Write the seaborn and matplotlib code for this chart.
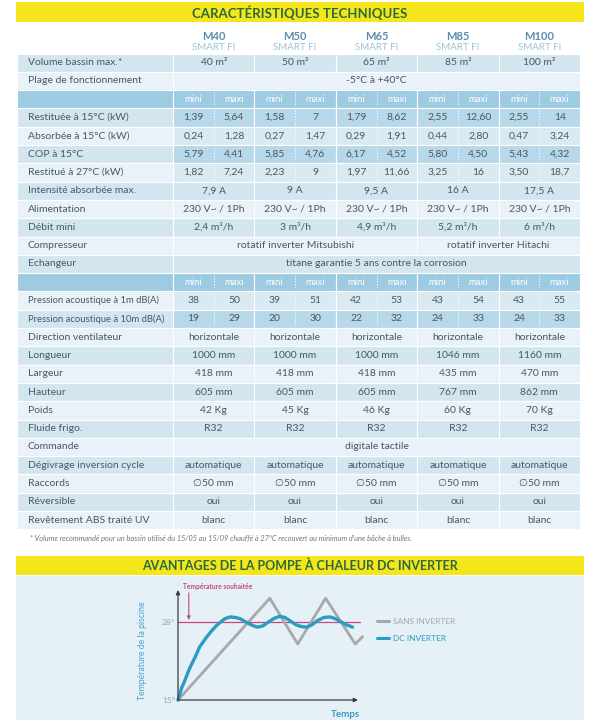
import pandas as pd
import matplotlib
matplotlib.use('Agg')
import matplotlib.pyplot as plt
from matplotlib.patches import Rectangle
import seaborn as sns

sns.set_theme(style='white')
plt.rcParams['font.family'] = ['Lato', 'DejaVu Sans']

# ── table data ──
models = ['M40', 'M50', 'M65', 'M85', 'M100']
volume = ['40 m²', '50 m²', '65 m²', '85 m²', '100 m²']
plage = '-5°C à +40°C'
rest15_mini = ['1,39', '1,58', '1,79', '2,55', '2,55']
rest15_maxi = ['5,64', '7', '8,62', '12,60', '14']
abs15_mini = ['0,24', '0,27', '0,29', '0,44', '0,47']
abs15_maxi = ['1,28', '1,47', '1,91', '2,80', '3,24']
cop_mini = ['5,79', '5,85', '6,17', '5,80', '5,43']
cop_maxi = ['4,41', '4,76', '4,52', '4,50', '4,32']
rest27_mini = ['1,82', '2,23', '1,97', '3,25', '3,50']
rest27_maxi = ['7,24', '9', '11,66', '16', '18,7']
intensite = ['7,9 A', '9 A', '9,5 A', '16 A', '17,5 A']
alimentation = ['230 V~ / 1Ph'] * 5
debit = ['2,4 m³/h', '3 m³/h', '4,9 m³/h', '5,2 m³/h', '6 m³/h']
compresseurs = ['rotatif inverter Mitsubishi', 'rotatif inverter Hitachi']
echangeur = 'titane garantie 5 ans contre la corrosion'
p1m_mini = ['38', '39', '42', '43', '43']
p1m_maxi = ['50', '51', '53', '54', '55']
p10m_mini = ['19', '20', '22', '24', '24']
p10m_maxi = ['29', '30', '32', '33', '33']
direction = ['horizontale'] * 5
longueur = ['1000 mm', '1000 mm', '1000 mm', '1046 mm', '1160 mm']
largeur = ['418 mm', '418 mm', '418 mm', '435 mm', '470 mm']
hauteur = ['605 mm', '605 mm', '605 mm', '767 mm', '862 mm']
poids = ['42 Kg', '45 Kg', '46 Kg', '60 Kg', '70 Kg']
fluide = ['R32'] * 5
commande = 'digitale tactile'
degivrage = ['automatique'] * 5
raccords = ['∅50 mm'] * 5
reversible = ['oui'] * 5
revetement = ['blanc'] * 5
footnote = ("* Volume recommandé pour un bassin utilisé du 15/05 au 15/09 chauffé "
            "à 27°C recouvert au minimum d'une bâche à bulles.")

# ── chart data ──
temps_sans = [0, 10.2, 13.3, 16.4, 19.7, 20.5]
temp_sans = [15, 31.9, 24.3, 31.9, 24.3, 25.5]
temps_dc = [0, 0.2, 0.4, 0.7, 0.9, 1.3, 1.9, 2.4, 3.1, 3.8, 4.3, 4.7, 5.2,
            5.8, 6.4, 6.9, 7.5, 8.1, 8.8, 9.4, 10.0, 10.6, 11.3, 11.9, 12.5,
            13.1, 13.7, 14.3, 14.9, 15.5, 16.2, 16.9, 17.5, 18.1, 18.7, 19.4]
temp_dc = [15, 16.0, 17.0, 18.0, 18.8, 20.3, 22.1, 23.8, 25.3, 26.6, 27.4,
           27.9, 28.5, 28.8, 28.7, 28.5, 28.0, 27.5, 27.1, 27.3, 27.9, 28.5,
           28.9, 28.7, 28.1, 27.5, 27.2, 27.1, 27.5, 28.2, 28.7, 28.8, 28.5,
           28.0, 27.5, 27.1]
target_temp = 28

# ── colours ──
yellow = '#f5e61c'
green = '#2b6a3c'
txt = '#4b5862'
dark, light, head = '#d3e6f0', '#e8f2f8', '#9dcbe1'
dark_val, light_val = '#b6d8ea', '#d9eaf3'
grey_line, blue_line, pink = '#a8a8a8', '#2b9cc4', '#c8477c'

rows = [
    ('Volume bassin max.*', 'each', volume),
    ('Plage de fonctionnement', 'span', [(0, 5, plage)]),
    ('', 'head', None),
    ('Restituée à 15°C (kW)', 'mm', (rest15_mini, rest15_maxi)),
    ('Absorbée à 15°C (kW)', 'mm', (abs15_mini, abs15_maxi)),
    ('COP à 15°C', 'mm', (cop_mini, cop_maxi)),
    ('Restitué à 27°C (kW)', 'mm', (rest27_mini, rest27_maxi)),
    ('Intensité absorbée max.', 'each', intensite),
    ('Alimentation', 'each', alimentation),
    ('Débit mini', 'each', debit),
    ('Compresseur', 'span', [(0, 3, compresseurs[0]), (3, 5, compresseurs[1])]),
    ('Echangeur', 'span', [(0, 5, echangeur)]),
    ('', 'head', None),
    ('Pression acoustique à 1m dB(A)', 'mm', (p1m_mini, p1m_maxi)),
    ('Pression acoustique à 10m dB(A)', 'mm', (p10m_mini, p10m_maxi)),
    ('Direction ventilateur', 'each', direction),
    ('Longueur', 'each', longueur),
    ('Largeur', 'each', largeur),
    ('Hauteur', 'each', hauteur),
    ('Poids', 'each', poids),
    ('Fluide frigo.', 'each', fluide),
    ('Commande', 'span', [(0, 5, commande)]),
    ('Dégivrage inversion cycle', 'each', degivrage),
    ('Raccords', 'each', raccords),
    ('Réversible', 'each', reversible),
    ('Revêtement ABS traité UV', 'each', revetement),
]
shade = 'dlhdldldldldhldldldldldldl'

fig = plt.figure(figsize=(6, 7.2), dpi=100)
ax = fig.add_axes([0, 0, 1, 1])
ax.set_xlim(0, 600)
ax.set_ylim(720, 0)
ax.axis('off')

# title bars
ax.add_patch(Rectangle((16, 2), 568, 20, facecolor=yellow, edgecolor='none'))
ax.text(300, 12.5, 'CARACTÉRISTIQUES TECHNIQUES', ha='center', va='center',
        fontsize=9.5, fontweight='bold', color=green)
ax.add_patch(Rectangle((16, 556), 568, 19, facecolor=yellow, edgecolor='none'))
ax.text(300, 565.5, 'AVANTAGES DE LA POMPE À CHALEUR DC INVERTER', ha='center',
        va='center', fontsize=9, fontweight='bold', color=green)
ax.add_patch(Rectangle((16, 576), 568, 144, facecolor='#e5f0f7', edgecolor='none'))

# header with model names
x_lab, x0 = 17, 173
col_w = 81.4
cols = [x0 + col_w * k for k in range(6)]
for k, m in enumerate(models):
    cx = cols[k] + col_w / 2
    ax.text(cx, 37, m, ha='center', va='center', fontsize=8, fontweight='bold', color='#5a8db0')
    ax.text(cx, 47, 'SMART FI', ha='center', va='center', fontsize=7, color='#9fc0d3')

top, rh = 53.5, 18.3
for i, (label, kind, vals) in enumerate(rows):
    y = top + i * rh
    yc = y + rh / 2
    s = shade[i]
    base = {'d': dark, 'l': light, 'h': head}[s]
    ax.add_patch(Rectangle((x_lab, y), x0 - x_lab, rh, facecolor=base, edgecolor='white', lw=0.8))
    fs = 6.8 if label.startswith('Pression') else 7.5
    ax.text(28, yc, label, ha='left', va='center', fontsize=fs, color=txt)
    if kind == 'span':
        for a, b, t in vals:
            ax.add_patch(Rectangle((cols[a], y), cols[b] - cols[a], rh, facecolor=base,
                                   edgecolor='white', lw=0.8))
            ax.text((cols[a] + cols[b]) / 2, yc, t, ha='center', va='center', fontsize=7.5, color=txt)
        continue
    for k in range(5):
        if kind == 'mm':
            fc = dark_val if s == 'd' else light_val
        else:
            fc = base
        ax.add_patch(Rectangle((cols[k], y), col_w, rh, facecolor=fc, edgecolor='white', lw=0.8))
        cx = cols[k] + col_w / 2
        if kind == 'each':
            ax.text(cx, yc, vals[k], ha='center', va='center', fontsize=7.5, color=txt)
        else:
            ax.plot([cx, cx], [y + 2, y + rh - 2], color='white', lw=0.8, ls=(0, (1, 1.5)))
            if kind == 'head':
                ax.text(cx - col_w / 4, yc, 'mini', ha='center', va='center', fontsize=6.8, color='white')
                ax.text(cx + col_w / 4, yc, 'maxi', ha='center', va='center', fontsize=6.8, color='white')
            else:
                ax.text(cx - col_w / 4, yc, vals[0][k], ha='center', va='center', fontsize=7.5, color=txt)
                ax.text(cx + col_w / 4, yc, vals[1][k], ha='center', va='center', fontsize=7.5, color=txt)

ax.text(30, 539, footnote, ha='left', va='center', fontsize=5.3, style='italic', color='#6b7780')

# ── chart: temperature over time ──
cax = fig.add_axes([178 / 600, 1 - 700 / 720, 180 / 600, 110 / 720])
cax.set_facecolor('none')
cax.set_xlim(0, 20)
cax.set_ylim(15, 15 + 110 / 6.02)

df = pd.DataFrame({
    'Temps': temps_sans + temps_dc,
    'Temperature': temp_sans + temp_dc,
    'Mode': ['SANS INVERTER'] * len(temps_sans) + ['DC INVERTER'] * len(temps_dc),
})
sns.lineplot(data=df, x='Temps', y='Temperature', hue='Mode',
             palette={'SANS INVERTER': grey_line, 'DC INVERTER': blue_line},
             sort=False, estimator=None, lw=2.0, ax=cax)
for ln in cax.lines:
    ln.set_clip_on(False)
    ln.set_solid_capstyle('round')
    ln.set_solid_joinstyle('round')
cax.lines[1].set_linewidth(2.4)

cax.axhline(target_temp, xmin=0, xmax=1.01, color=pink, lw=0.9, clip_on=False, zorder=1)
cax.annotate('', xy=(1.2, 28.3), xytext=(1.2, 32.8),
             arrowprops=dict(arrowstyle='-|>', color=pink, lw=0.8, mutation_scale=5,
                             shrinkA=0, shrinkB=0))
cax.text(0.6, 33.9, 'Température souhaitée', ha='left', va='center', fontsize=4.8,
         fontweight='bold', color=pink, clip_on=False)

for sp in cax.spines.values():
    sp.set_visible(False)
cax.annotate('', xy=(1.0, 0), xytext=(0, 0), xycoords='axes fraction',
             arrowprops=dict(arrowstyle='-|>', color='#3a3a3a', lw=0.9, mutation_scale=6,
                             shrinkA=0, shrinkB=0))
cax.annotate('', xy=(0, 1.0), xytext=(0, 0), xycoords='axes fraction',
             arrowprops=dict(arrowstyle='-|>', color='#3a3a3a', lw=0.9, mutation_scale=6,
                             shrinkA=0, shrinkB=0))
cax.set_yticks([15, target_temp])
cax.set_yticklabels(['15°', '28°'], fontsize=6, color='#9aa4ab')
cax.set_xticks([4, 8, 12, 16])
cax.set_xticklabels([])
cax.tick_params(axis='y', length=0, pad=2)
cax.tick_params(axis='x', length=2, direction='in', color='#b0b8bd', width=0.6)
cax.set_ylabel('Température de la piscine', fontsize=6.2, color='#4aa3c8')
cax.yaxis.set_label_coords(-0.17, 0.45)
cax.set_xlabel('Temps', fontsize=7, fontweight='bold', color='#3a9cc4')
cax.xaxis.set_label_coords(0.93, -0.09)

leg = cax.legend(loc='upper left', bbox_to_anchor=(377 / 600, 1 - 618 / 720),
                 bbox_transform=fig.transFigure, frameon=False, fontsize=6,
                 handlelength=1.4, handletextpad=0.5, labelspacing=1.15,
                 borderpad=0, borderaxespad=0)
for t, c in zip(leg.get_texts(), [grey_line, blue_line]):
    t.set_color(c)
for h in leg.get_lines():
    h.set_linewidth(2.2)

fig.savefig('out.png', dpi=100)
